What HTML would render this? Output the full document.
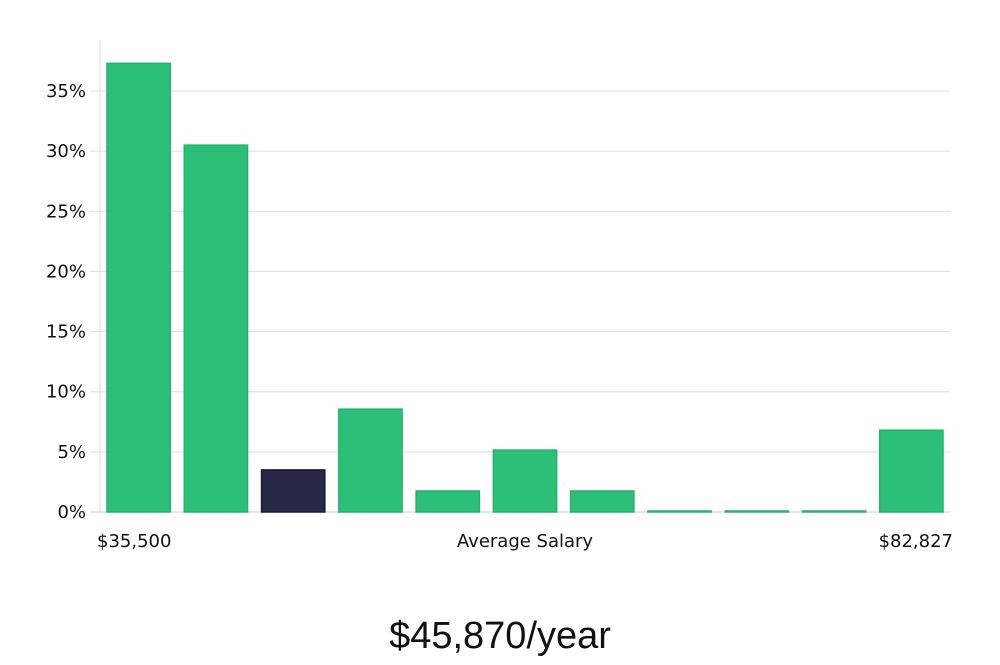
<!DOCTYPE html>
<html><head><meta charset="utf-8"><style>
body{margin:0;background:#fff;width:1000px;height:660px;overflow:hidden}
svg text{font-family:"DejaVu Sans","Liberation Sans",sans-serif;fill:#111}
</style></head><body>
<svg id="chart" width="1000" height="660" xmlns="http://www.w3.org/2000/svg">
<g id="grid"></g>
<g id="bars"></g>
<g id="yaxis"></g>
<text x="97" y="547" font-size="18">$35,500</text>
<text x="525" y="547" font-size="18" text-anchor="middle">Average Salary</text>
<text x="953" y="547" font-size="18" text-anchor="end">$82,827</text>
<text x="500" y="648" font-size="38" text-anchor="middle" style="font-family:'Liberation Sans Narrow','Liberation Sans',sans-serif" fill="#111">$45,870/year</text>
</svg>
<script>
const values = [37.3, 30.5, 3.5, 8.55, 1.75, 5.15, 1.75, 0, 0, 0, 6.8];
const highlight = [false, false, true, false, false, false, false, false, false, false, false];
const yTicks = [0, 5, 10, 15, 20, 25, 30, 35];
const yTickLabels = ["0%", "5%", "10%", "15%", "20%", "25%", "30%", "35%"];

const NS = "http://www.w3.org/2000/svg";
const x0 = 100, x1 = 950, yBase = 512, yTop35 = 91;
const y = v => yBase - v * (yBase - yTop35) / 35;
const band = (x1 - x0) / values.length;
const xb = i => x0 + i * band + 7;
const bw = band - 14;

const grid = document.getElementById('grid');
const yaxis = document.getElementById('yaxis');
const axisLine = document.createElementNS(NS, 'line');


axisLine.setAttribute('x1', x0); axisLine.setAttribute('x2', x0);
axisLine.setAttribute('y1', 40); axisLine.setAttribute('y2', yBase);
axisLine.setAttribute('stroke', '#ddd');
grid.appendChild(axisLine);
yTicks.forEach((t, i) => {
  const l = document.createElementNS(NS, 'line');
  
  
  l.setAttribute('x1', 90); l.setAttribute('x2', x1);
  l.setAttribute('y1', y(t)); l.setAttribute('y2', y(t));
  l.setAttribute('stroke', i === 0 ? '#ccc' : '#ddd');
  grid.appendChild(l);
  const tx = document.createElementNS(NS, 'text');
  
  
  tx.setAttribute('x', 86); tx.setAttribute('y', y(t) + 6);
  tx.setAttribute('text-anchor', 'end'); tx.setAttribute('font-size', '18');
  tx.textContent = yTickLabels[i];
  yaxis.appendChild(tx);
});
const bars = document.getElementById('bars');
values.forEach((v, i) => {
  const r = document.createElementNS(NS, 'rect');
  
  
  const h = Math.max(1, yBase - y(v));
  r.setAttribute('x', xb(i)); r.setAttribute('y', yBase - h);
  r.setAttribute('width', bw); r.setAttribute('height', h);
  r.setAttribute('fill', highlight[i] ? '#2a2849' : '#2bbf77');
  r.setAttribute('stroke', highlight[i] ? '#1a1838' : '#22b46c');
  r.setAttribute('stroke-width', '1.5');
  bars.appendChild(r);
});
</script>
</body></html>
